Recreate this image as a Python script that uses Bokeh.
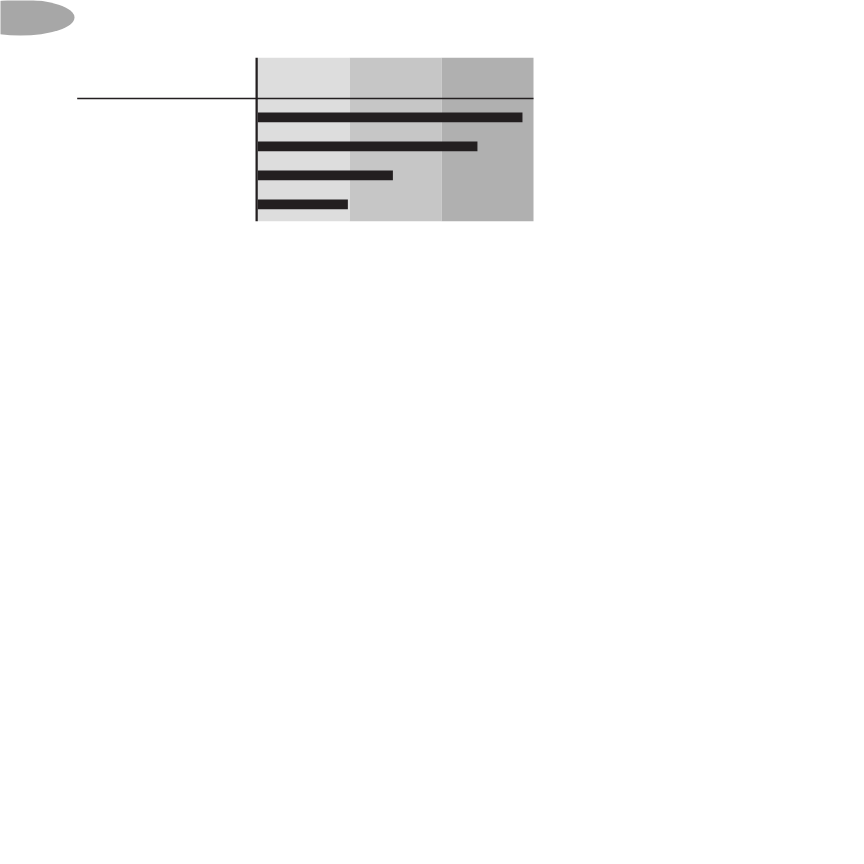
from bokeh.plotting import figure
from bokeh.models import Range1d
from bokeh.embed import file_html
from bokeh.resources import INLINE

# data
categories = ["A", "B", "C", "D"]
values = [28.8, 23.9, 14.7, 9.8]
band_edges = [0, 10, 20, 30]
band_colors = ["#dddddd", "#c6c6c6", "#b0b0b0"]

W, H = 848, 848
PX_PER_UNIT_X = 9.19      # pixels per value unit
ZERO_X = 257.3            # figure px of value 0
PX_PER_ROW = 29.0
ROW0_Y = 116.9            # figure px (from top) of first bar centre

x_start = -ZERO_X / PX_PER_UNIT_X
x_end = (W - ZERO_X) / PX_PER_UNIT_X
y_top = -ROW0_Y / PX_PER_ROW
y_bottom = (H - ROW0_Y) / PX_PER_ROW

p = figure(width=W, height=H, output_backend="svg", toolbar_location=None,
           x_range=Range1d(x_start, x_end), y_range=Range1d(y_bottom, y_top),
           min_border=0, outline_line_color=None)
p.axis.visible = False
p.grid.visible = False
p.background_fill_color = "white"
p.border_fill_color = "white"

band_top = (57.3 - ROW0_Y) / PX_PER_ROW
band_bottom = (220.7 - ROW0_Y) / PX_PER_ROW
rule_y = (98.0 - ROW0_Y) / PX_PER_ROW
rule_x0 = (76.7 - ZERO_X) / PX_PER_UNIT_X

p.quad(left=band_edges[:-1], right=band_edges[1:],
       top=[band_top] * 3, bottom=[band_bottom] * 3,
       fill_color=band_colors, line_color=None)

# horizontal rule
p.segment(x0=[rule_x0], y0=[rule_y], x1=[band_edges[-1]], y1=[rule_y],
          line_color="#231f20", line_width=1.6)

# bars
ys = list(range(len(categories)))
p.hbar(y=ys, left=0, right=values, height=0.34,
       fill_color="#231f20", line_color=None)

# vertical axis line
p.quad(left=[-0.25], right=[0.0], top=[band_top], bottom=[band_bottom],
       fill_color="#231f20", line_color=None)

# decorative ellipse at top-left
ell_x = (20 - ZERO_X) / PX_PER_UNIT_X
ell_y = (17 - ROW0_Y) / PX_PER_ROW
p.ellipse(x=[ell_x], y=[ell_y], width=108 / PX_PER_UNIT_X, height=36 / PX_PER_ROW,
          fill_color="#a7a7a7", line_color=None)

open("out.html", "w").write(file_html(p, INLINE))
